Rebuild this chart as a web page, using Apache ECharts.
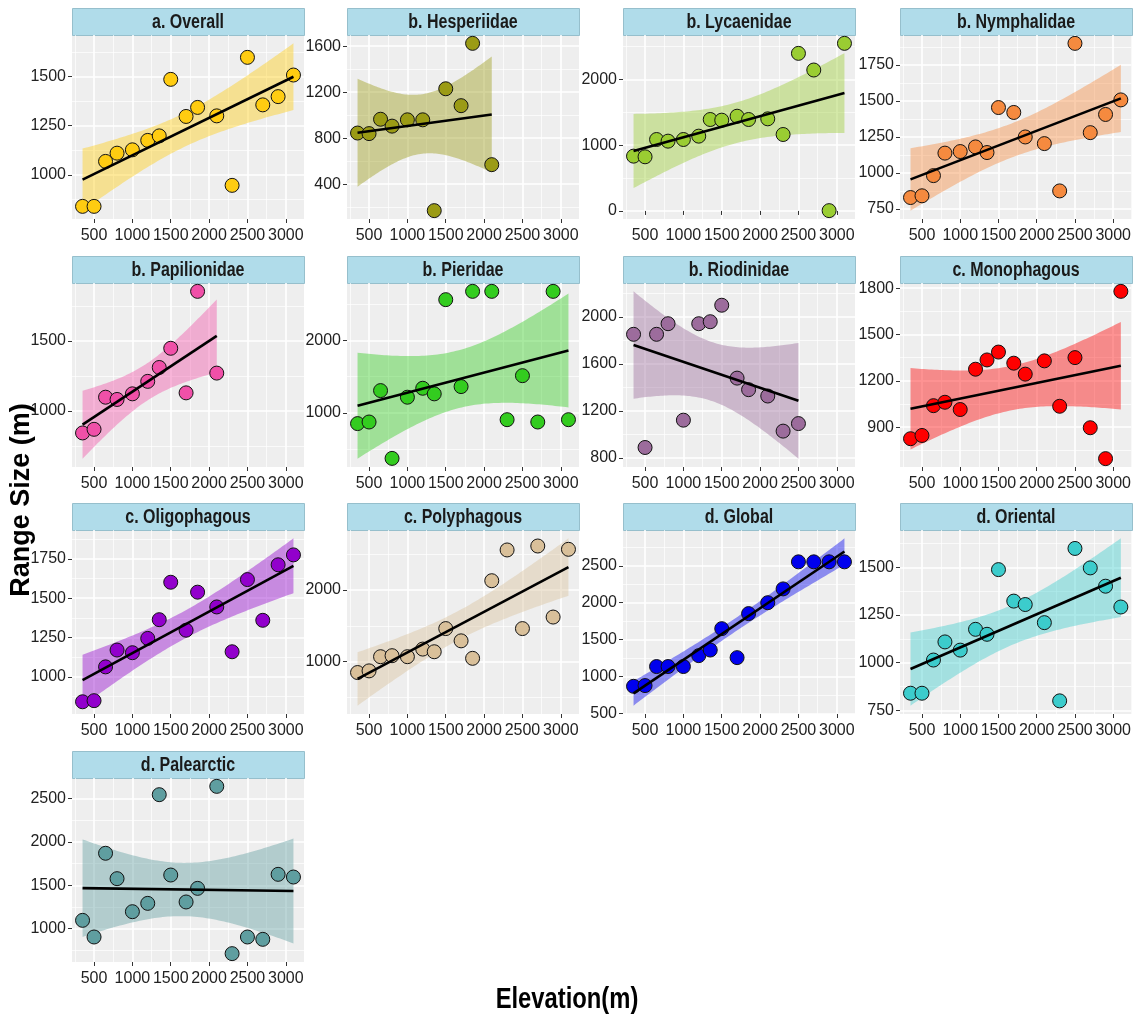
<!DOCTYPE html>
<html>
<head>
<meta charset="utf-8">
<script src="https://cdn.jsdelivr.net/npm/echarts@6/dist/echarts.min.js"></script>
<style>
html,body{margin:0;padding:0;background:#fff;}
#chart{width:1134px;height:1025px;}
</style>
</head>
<body>
<div id="chart"></div>
<script>
// ---------------- data ----------------
const elevation = [350,500,650,800,1000,1200,1350,1500,1700,1850,2100,2300,2500,2700,2900,3100];
const xTicks = [500,1000,1500,2000,2500,3000];

const overall      = [839,839,1068,1110,1127,1175,1198,1486,1297,1343,1300,946,1598,1356,1398,1508];
const hesperiidae  = [845,840,965,905,960,960,170,1230,1083,1625,570];
const lycaenidae   = [833,823,1086,1061,1086,1137,1390,1380,1440,1390,1400,1162,2395,2142,5,2547];
const nymphalidae  = [830,842,982,1138,1149,1181,1142,1454,1420,1250,1204,876,1899,1280,1406,1507];
const papilionidae = [844,870,1099,1083,1123,1212,1311,1448,1130,1854,1271];
const pieridae     = [855,877,1309,377,1218,1341,1264,2559,1364,2673,2673,909,1514,877,2673,909];
const riodinidae   = [1851,890,1851,1941,1122,1941,1958,2098,1479,1381,1327,1029,1093];
const monophagous  = [825,846,1039,1061,1014,1275,1335,1386,1314,1243,1329,1035,1350,896,696,1779];
const oligophagous = [841,848,1063,1170,1153,1244,1363,1601,1296,1538,1444,1159,1618,1359,1712,1775];
const polyphagous  = [848,871,1069,1083,1069,1175,1138,1461,1290,1046,2129,2558,1461,2613,1622,2567];
const globalDist   = [866,876,1134,1134,1134,1282,1358,1648,1255,1852,2000,2187,2554,2554,2554,2554];
const oriental     = [840,840,1014,1109,1066,1175,1149,1488,1323,1305,1210,800,1599,1497,1401,1292];
const palearctic   = [1096,904,1870,1577,1196,1292,2546,1619,1308,1465,2642,712,904,877,1627,1596];

const panelTitles = ['a. Overall','b. Hesperiidae','b. Lycaenidae','b. Nymphalidae',
  'b. Papilionidae','b. Pieridae','b. Riodinidae','c. Monophagous',
  'c. Oligophagous','c. Polyphagous','d. Global','d. Oriental','d. Palearctic'];
const panelValues = [overall,hesperiidae,lycaenidae,nymphalidae,papilionidae,pieridae,
  riodinidae,monophagous,oligophagous,polyphagous,globalDist,oriental,palearctic];
const panelColors = ['#FFCC11','#9B9B15','#9ACD32','#F58A3F','#F050A8','#33CC1F',
  '#9C6C9C','#FF0000','#9200CC','#D9C09A','#0000EE','#3CCCCC','#5F9EA0'];
const yTickSteps = [250,400,1000,250,500,1000,400,300,250,1000,500,250,500];

// Student t 0.975 quantiles by degrees of freedom
const T975 = [NaN,12.706,4.303,3.182,2.776,2.571,2.447,2.365,2.306,2.262,2.228,2.201,2.179,2.160,2.145,2.131,2.120,2.110,2.101,2.093,2.086];

// ---------------- layout ----------------
const colLeft = [72,347,623,900];
const rowTop = [8,256,503,751];
const plotW = 232, stripH = 27, plotH = 184;
const sansFont = "'Liberation Sans',Arial,sans-serif";
const xMin = 350 - 0.05*(3100-350), xMax = 3100 + 0.05*(3100-350);

function fit(xs, ys){
  const n = xs.length;
  const xb = xs.reduce((a,b)=>a+b,0)/n, yb = ys.reduce((a,b)=>a+b,0)/n;
  let sxx=0, sxy=0;
  for(let i=0;i<n;i++){ sxx += (xs[i]-xb)**2; sxy += (xs[i]-xb)*(ys[i]-yb); }
  const b = sxy/sxx, a = yb - b*xb;
  let sse = 0;
  for(let i=0;i<n;i++){ sse += (ys[i]-a-b*xs[i])**2; }
  const s = Math.sqrt(sse/(n-2)), t = T975[n-2];
  const x0 = xs[0], x1 = xs[n-1];
  const band = [];
  for(let k=0;k<80;k++){
    const x = x0 + (x1-x0)*k/79;
    const yh = a + b*x;
    const se = s*Math.sqrt(1/n + (x-xb)**2/sxx);
    band.push([x, yh - t*se, yh + t*se]);
  }
  return {a, b, band, x0, x1};
}

const grids=[], xAxes=[], yAxes=[], series=[], graphics=[];
const N = panelTitles.length;
const xMinor = [];
for(let v=250; v<xMax; v+=500){ if(v>xMin) xMinor.push(v); }
const fmt = v => String(Math.round(v));

for(let i=0;i<N;i++){
  const ys = panelValues[i];
  const xs = elevation.slice(0, ys.length);
  const f = fit(xs, ys);
  let lo = Math.min(...ys, ...f.band.map(p=>p[1]));
  let hi = Math.max(...ys, ...f.band.map(p=>p[2]));
  const pad = 0.05*(hi-lo);
  const yMin = lo - pad, yMax = hi + pad;
  const step = yTickSteps[i];
  const majors = [], minors = [];
  for(let v=Math.ceil(yMin/step)*step; v<=yMax; v+=step) majors.push(v);
  for(let v=Math.ceil(yMin/step)*step - step/2; v<=yMax; v+=step){ if(v>=yMin) minors.push(v); }

  const col = i%4, row = Math.floor(i/4);
  const left = colLeft[col], top = rowTop[row] + stripH;
  grids.push({left:left, top:top, width:plotW, height:plotH, show:true,
    backgroundColor:'#EEEEEE', borderWidth:0});

  const labelStyle = {color:'#222', fontFamily:sansFont, fontSize:16, formatter:fmt,
    showMinLabel:true, showMaxLabel:true};
  xAxes[i] = {type:'value', gridIndex:i, min:xMin, max:xMax, position:'bottom',
    axisLine:{show:false},
    axisTick:{show:true, length:4, lineStyle:{color:'#333', width:1}, customValues:xTicks},
    axisLabel:Object.assign({customValues:xTicks, margin:9}, labelStyle),
    splitLine:{show:true, lineStyle:{color:'#FFFFFF', width:1.6}}};
  xAxes[N+i] = {type:'value', gridIndex:i, min:xMin, max:xMax, position:'top',
    axisLine:{show:false}, axisTick:{show:false, customValues:xMinor},
    axisLabel:{show:false}, splitLine:{show:true, lineStyle:{color:'#FFFFFF', width:0.7}}};
  yAxes[i] = {type:'value', gridIndex:i, min:yMin, max:yMax, position:'left',
    axisLine:{show:false},
    axisTick:{show:true, length:4, lineStyle:{color:'#333', width:1}, customValues:majors},
    axisLabel:Object.assign({customValues:majors, margin:6}, labelStyle),
    splitLine:{show:true, lineStyle:{color:'#FFFFFF', width:1.6}}};
  yAxes[N+i] = {type:'value', gridIndex:i, min:yMin, max:yMax, position:'right',
    axisLine:{show:false}, axisTick:{show:false, customValues:minors},
    axisLabel:{show:false}, splitLine:{show:true, lineStyle:{color:'#FFFFFF', width:0.7}}};

  const color = panelColors[i];
  const band = f.band;
  series.push({
    type:'custom', xAxisIndex:i, yAxisIndex:i, silent:true, z:1,
    data:[[band[0][0], band[0][1]]],
    renderItem:(params, api)=>{
      const up = band.map(p=>api.coord([p[0], p[2]]));
      const dn = band.slice().reverse().map(p=>api.coord([p[0], p[1]]));
      return {type:'polygon', shape:{points:up.concat(dn)}, style:{fill:color, opacity:0.42}};
    }
  });
  series.push({
    type:'scatter', xAxisIndex:i, yAxisIndex:i, z:2, symbolSize:14,
    data: xs.map((x,j)=>[x, ys[j]]),
    itemStyle:{color:color, borderColor:'#111', borderWidth:1, opacity:1}
  });
  series.push({
    type:'line', xAxisIndex:i, yAxisIndex:i, z:3, symbol:'none',
    data:[[f.x0, f.a + f.b*f.x0],[f.x1, f.a + f.b*f.x1]],
    lineStyle:{color:'#000', width:2.6}
  });

  graphics.push({type:'rect', left:left, top:rowTop[row], silent:true,
    shape:{width:plotW, height:stripH},
    style:{fill:'#B0DCEA', stroke:'#96BFCC', lineWidth:1}});
  graphics.push({type:'text', x:left+plotW/2, y:rowTop[row]+stripH/2+1, silent:true,
    scaleX:0.8,
    style:{text:panelTitles[i], fill:'#1A1A1A', font:"bold 20px "+sansFont,
      textAlign:'center', textVerticalAlign:'middle'}});
}

graphics.push({type:'text', x:22, y:500, rotation:Math.PI/2, silent:true,
  style:{text:'Range Size (m)', fill:'#000', font:"bold 27px "+sansFont,
    textAlign:'center', textVerticalAlign:'middle'}});
graphics.push({type:'text', x:567, y:1000, silent:true, scaleX:0.82,
  style:{text:'Elevation(m)', fill:'#000', font:"bold 29px "+sansFont,
    textAlign:'center', textVerticalAlign:'middle'}});

const chart = echarts.init(document.getElementById('chart'), null, {renderer:'canvas'});
chart.setOption({
  animation:false,
  backgroundColor:'#FFFFFF',
  grid:grids, xAxis:xAxes, yAxis:yAxes, series:series, graphic:graphics
});
</script>
</body>
</html>
